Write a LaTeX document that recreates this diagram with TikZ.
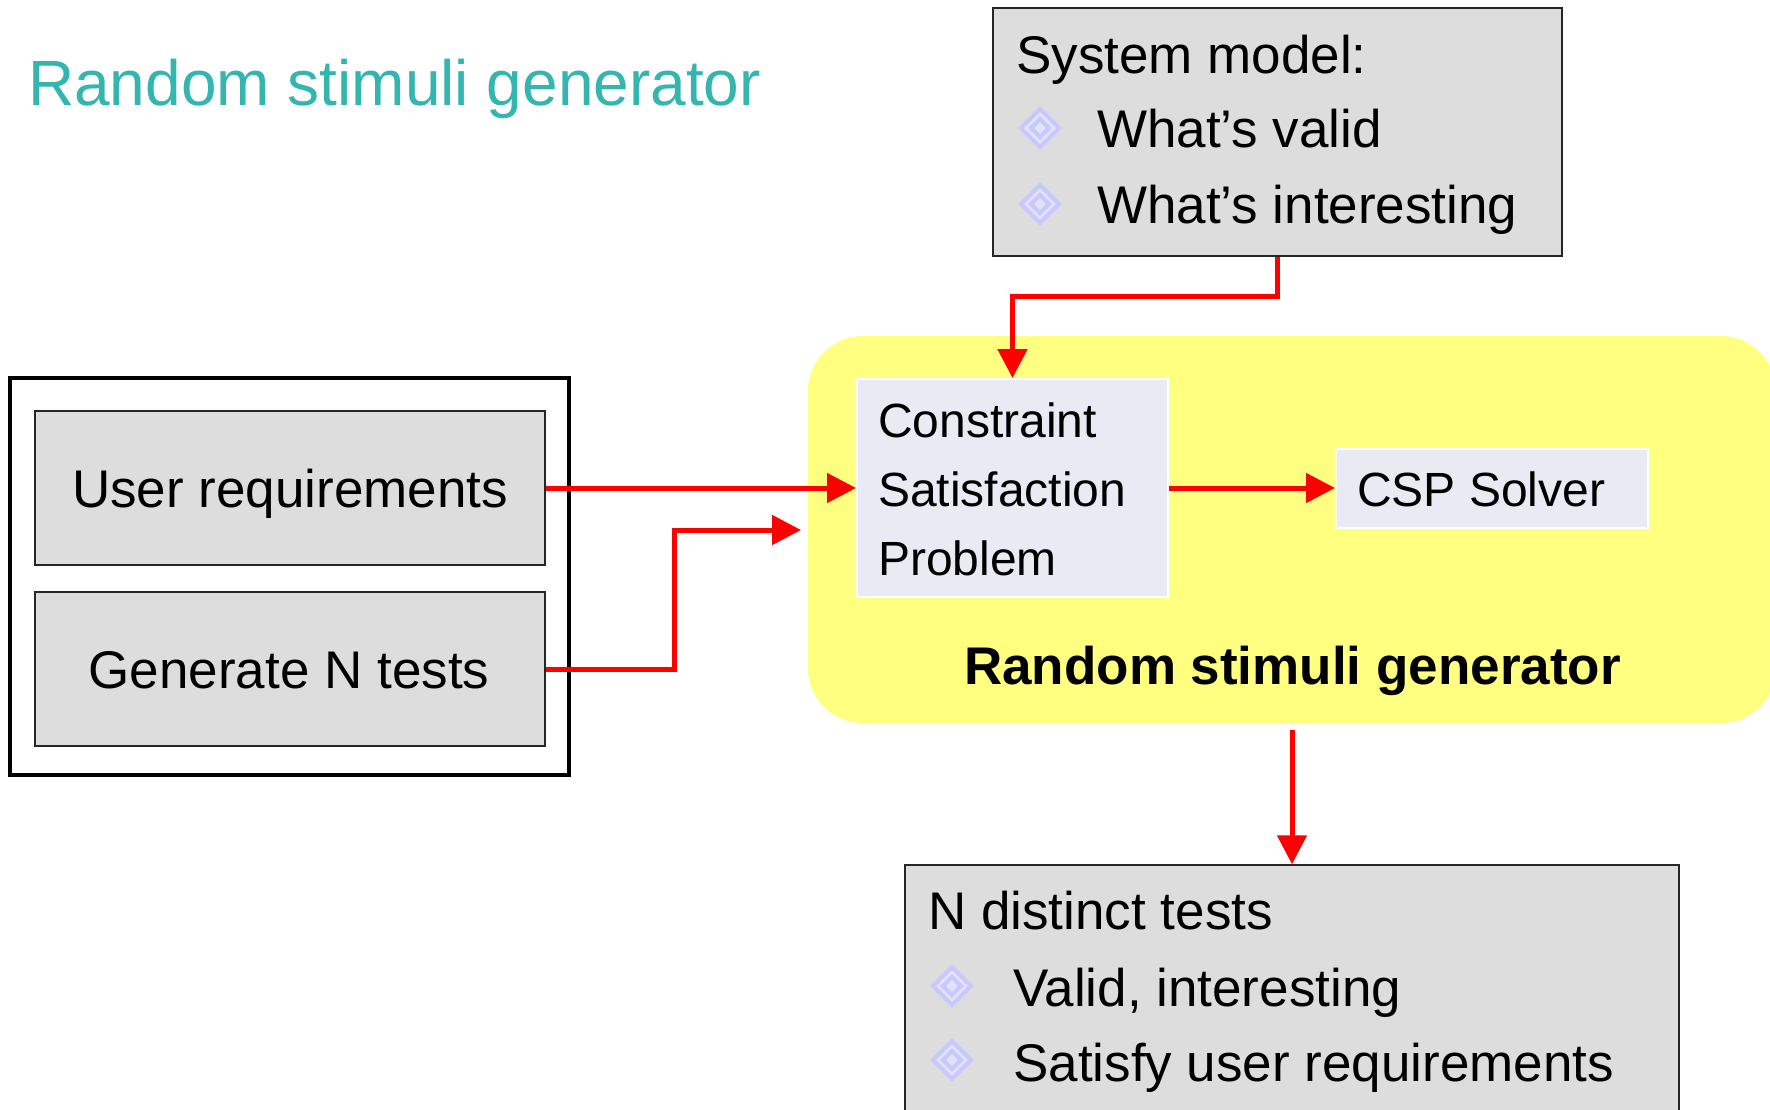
\documentclass[tikz,border=0pt]{standalone}
\usepackage{fontspec}
\setmainfont{Liberation Sans}
\usepackage{xcolor}
\usetikzlibrary{
    arrows.meta,
    calc,
    positioning
}

\definecolor{titleteal}{RGB}{51,181,176}
\definecolor{boxgray}{RGB}{221,221,221}
\definecolor{cspfill}{RGB}{234,234,244}
\definecolor{rsgyellow}{RGB}{255,255,128}
\definecolor{bulletline}{RGB}{200,200,255}
\definecolor{bulletfill}{RGB}{226,226,250}

\tikzset{
    graybox/.style={draw=black!85, line width=1.5pt, fill=boxgray, inner sep=0pt},
    cspbox/.style={draw=white, line width=2pt, fill=cspfill, inner sep=0pt},
    redarrow/.style={draw=red, line width=5pt, -{Triangle[length=29pt, width=29pt]}},
    bodytxt/.style={anchor=base west, inner sep=0pt, font=\fontsize{53}{64}\selectfont},
    csptxt/.style={anchor=base west, inner sep=0pt, font=\fontsize{48}{58}\selectfont},
    dbullet/.pic={
        \draw[bulletline, fill=bulletfill, line width=4pt]
        (0, 19) -- (19, 0) -- (0, -19) -- (-19, 0) -- cycle;
        \draw[bulletline, line width=4pt]
        (0, 9) -- (9, 0) -- (0, -9) -- (-9, 0) -- cycle;
    }
}

\begin{document}
\begin{tikzpicture}[x=1pt, y=1pt]
                    \useasboundingbox (0, 0) rectangle (1770, -1109);
                    \clip (0, 0) rectangle (1770, -1109);
                    \node[anchor=base west, inner sep=0pt, text=titleteal, font=\fontsize{64}{77}\selectfont]
                    (title) at (28, -105) {Random stimuli generator};
                    % generator block
                    \node[fill=rsgyellow, rounded corners=55pt, minimum width=968pt, minimum height=387pt]
                    (rsg) at (1292, -529.5) {};
                    \node[cspbox, minimum width=311pt, minimum height=218pt] (csp) at (1012.5, -488) {};
                    \node[cspbox, minimum width=312pt, minimum height=79pt] (solver) at (1492, -488) {};
                    \foreach \txt [count=\i] in {Constraint, Satisfaction, Problem} {
                        \node[csptxt] (cspline\i) at (878, -368-69*\i) {\txt};
                    }
                    \node[csptxt] (solvertxt) at (1357, -506) {CSP Solver};
                    \node[anchor=base, inner sep=0pt, font=\fontsize{53}{64}\selectfont\bfseries]
                    (rsgtxt) at (1292.5, -684) {Random stimuli generator};
                    % system model
                    \node[graybox, minimum width=569pt, minimum height=248pt] (sysmodel) at (1277.5, -132) {};
                    \node[bodytxt] (sysline0) at (1016, -73) {System model:};
                    \foreach \txt [count=\i] in {What’s valid, What’s interesting} {
                        \pic at (1040, -52-76*\i) {dbullet};
                        \node[bodytxt] (sysline\i) at (1097, -71-76*\i) {\txt};
                    }
                    % user inputs
                    \node[draw=black, line width=4pt, minimum width=559pt, minimum height=397pt] (inputs) at (289.5, -576.5) {};
                    \node[graybox, minimum width=510pt, minimum height=154pt] (userreq) at (290, -488) {};
                    \node[graybox, minimum width=510pt, minimum height=154pt] (gentests) at (290, -669) {};
                    \node[anchor=base, inner sep=0pt, font=\fontsize{53}{64}\selectfont] (userreqtxt) at (290, -507) {User requirements};
                    \node[anchor=base, inner sep=0pt, font=\fontsize{53}{64}\selectfont] (gentxt) at (289, -688) {Generate N tests};
                    % results
                    \node[graybox, minimum width=774pt, minimum height=270pt] (results) at (1292, -1000) {};
                    \node[bodytxt] (resline0) at (928, -929) {N distinct tests};
                    \foreach \txt [count=\i] in {{Valid, interesting}, Satisfy user requirements} {
                        \pic at (952, -912-74*\i) {dbullet};
                        \node[bodytxt] (resline\i) at (1013, -931-75*\i) {\txt};
                    }
                    % connections
                    \coordinate (rsgin) at (801, -530);
                    \draw[redarrow] (sysmodel.south) -- ++(0, -40) -| (csp.north);
                    \draw[redarrow] (userreq.east) -- (csp.west);
                    \draw[redarrow] (gentests.east) -- ++(129, 0) |- (rsgin);
                    \draw[redarrow] (csp.east) -- (solver.west);
                    \draw[redarrow] ($(rsg.south) + (0, -7)$) -- (results.north);
                \end{tikzpicture}
\end{document}
